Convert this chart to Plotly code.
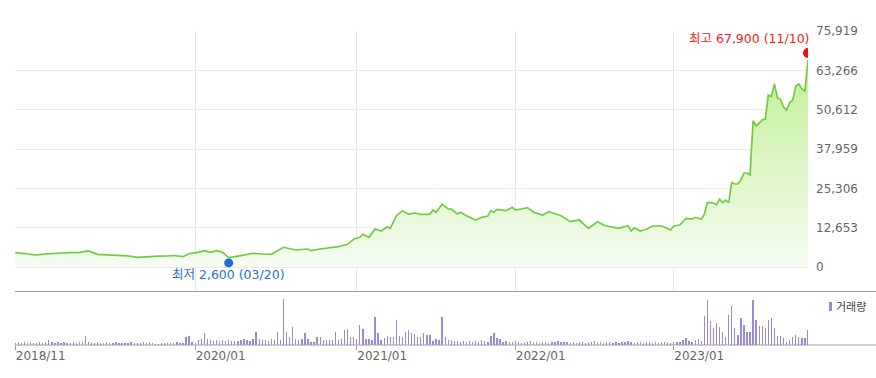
import pandas as pd
import plotly.graph_objects as go

# ---------------- data ----------------
start_date = pd.Timestamp("2018-11-16")   # first weekly point (Friday)

price_week = [0, 3, 7, 10, 12, 15, 18, 21, 24, 27, 30, 34, 37, 40, 44, 47, 50, 52, 55, 57,
              60, 62, 64, 66, 68, 70, 74, 78, 81, 84, 88, 92, 96, 97, 100, 103, 106, 109,
              111, 113, 114, 116, 118, 120, 122, 123, 124, 125, 127, 129, 131, 133, 136,
              137, 138, 140, 142, 143, 145, 146, 148, 151, 153, 155, 156, 157, 158, 161,
              163, 164, 166, 168, 170, 173, 175, 179, 182, 185, 188, 191, 193, 195, 198,
              201, 202, 203, 205, 207, 209, 212, 213, 215, 216, 218, 220, 222, 223, 225,
              226, 227, 228, 229, 230, 231, 232, 233, 234, 235, 236, 237, 238, 239, 240,
              241, 242, 243, 244, 245, 246, 247, 248, 249, 250, 251, 252, 253, 254, 255,
              256, 257, 258, 259, 260]
price = [4600, 4300, 3860, 4200, 4400, 4500, 4600, 4700, 5150, 4090, 3900, 3860, 3600, 3120,
         3440, 3500, 3540, 3700, 3310, 4280, 4700, 5240, 4730, 5240, 4730, 2990, 3640, 4410,
         4180, 4090, 6340, 5470, 5790, 5240, 5790, 6210, 6530, 7300, 8910, 9550, 10520,
         9550, 12230, 11580, 12870, 12450, 14570, 16500, 18110, 16950, 17370, 16950, 16950,
         18340, 17600, 20170, 18660, 18660, 17050, 17600, 16500, 15120, 15990, 16410, 18110,
         17600, 18560, 18110, 19200, 18340, 18660, 19080, 17600, 16730, 17790, 16500, 14570,
         15120, 12450, 14570, 13510, 12960, 12450, 13290, 11580, 12640, 11580, 12130, 13190,
         13190, 12770, 11900, 13190, 13510, 15670, 15440, 15990, 15350,
         17000, 20690, 20700, 20600, 20000, 21800, 20700, 21550, 20700, 27200, 26700, 26700,
         28000, 30240, 30240, 29600, 47060, 45360, 46300, 47290, 47600, 55300, 54800, 58870,
         54370, 53950, 51470, 50500, 52860, 53720, 58230, 58870, 57260, 56620, 66590]

# weekly trading volume (relative units), weeks 0..260
volume = [2, 3, 2, 3, 2, 3, 2, 2, 3, 2,
          3, 5, 3, 2, 3, 2, 3, 2, 2, 3,
          2, 3, 3, 9, 3, 3, 2, 3, 2, 2,
          3, 2, 2, 3, 2, 2, 2, 2, 3, 2,
          2, 2, 3, 2, 3, 2, 1, 1, 2, 2,
          2, 2, 2, 3, 2, 2, 8, 9, 3, 2,
          5, 6, 12, 6, 5, 4, 5, 4, 5, 4,
          5, 4, 4, 4, 5, 6, 5, 4, 6, 13,
          6, 5, 5, 4, 6, 5, 13, 5, 46, 13,
          8, 18, 6, 5, 6, 12, 6, 3, 3, 8,
          8, 5, 5, 5, 5, 13, 5, 6, 15, 16,
          8, 8, 6, 20, 16, 6, 6, 5, 28, 12,
          5, 7, 9, 8, 8, 25, 9, 8, 13, 15,
          12, 11, 8, 8, 12, 10, 10, 4, 6, 5,
          28, 8, 5, 5, 4, 4, 3, 4, 3, 4,
          3, 4, 3, 5, 4, 3, 9, 12, 7, 6,
          3, 4, 3, 3, 4, 3, 2, 3, 3, 4,
          3, 3, 2, 3, 3, 2, 3, 3, 4, 3,
          3, 3, 2, 3, 2, 3, 3, 2, 3, 3,
          4, 3, 3, 2, 3, 3, 2, 3, 2, 3,
          3, 4, 3, 2, 3, 3, 2, 3, 3, 2,
          3, 2, 3, 3, 3, 2, 3, 3, 3, 5,
          7, 4, 3, 5, 6, 4,
          29, 45, 24, 17, 22, 18, 13, 8, 30, 39,
          17, 10, 27, 20, 13, 13, 45, 25, 19, 19,
          17, 25, 27, 17, 9, 9, 7, 3, 5, 8,
          10, 8, 7, 7, 15]

tick_dates = ["2018-11-16", "2020-01-03", "2021-01-08", "2022-01-07", "2023-01-06"]
tick_labels = ["2018/11", "2020/01", "2021/01", "2022/01", "2023/01"]
price_ticks = [0, 12653, 25306, 37959, 50612, 63266, 75919]

high_date, high_value, high_label = "2023-11-10", 67900, "최고 67,900 (11/10)"
low_date, low_value, low_label = "2020-03-20", 2600, "최저 2,600 (03/20)"
volume_label = "거래량"

# ---------------- figure ----------------
W, H = 876, 378
FONT = "DejaVu Sans, Noto Sans CJK KR, sans-serif"

price_dates = [start_date + pd.Timedelta(weeks=w) for w in price_week]
vol_dates = [start_date + pd.Timedelta(weeks=w) for w in range(len(volume))]

def py(p):  # pixel from top -> paper fraction
    return 1 - p / H

x_dom = [15 / W, 808 / W]
x_range = [start_date - pd.Timedelta(hours=16), pd.Timestamp(high_date) + pd.Timedelta(hours=2)]

fig = go.Figure()

fig.add_trace(go.Scatter(
    x=price_dates, y=price, mode="lines",
    line=dict(color="#72cb42", width=1.7),
    fill="tozeroy",
    fillgradient=dict(type="vertical",
                      colorscale=[[0, "rgba(246,252,242,1)"], [1, "rgba(192,239,148,1)"]],
                      start=0, stop=high_value),
    hoverinfo="skip", showlegend=False, xaxis="x", yaxis="y"))

fig.add_trace(go.Bar(
    x=vol_dates, y=volume, marker=dict(color="#9b88d8", line=dict(width=0)),
    width=3.0 * 86400000, hoverinfo="skip", showlegend=False, xaxis="x2", yaxis="y2"))

shapes = [
    # volume panel top line and baseline
    dict(type="line", xref="paper", yref="paper", x0=15 / W, x1=1, y0=py(291.5), y1=py(291.5),
         line=dict(color="#a0a0a0", width=1)),
    dict(type="line", xref="paper", yref="paper", x0=15 / W, x1=1, y0=py(345), y1=py(345),
         line=dict(color="#a0a0a0", width=1)),
    # high / low markers
    dict(type="circle", xref="x", yref="y", xsizemode="pixel", ysizemode="pixel",
         xanchor=high_date, yanchor=high_value, x0=-5, x1=5, y0=-2, y1=8,
         fillcolor="#f20d0d", line=dict(width=0)),
    dict(type="circle", xref="x", yref="y", xsizemode="pixel", ysizemode="pixel",
         xanchor=low_date, yanchor=low_value, x0=-4.5, x1=4.5, y0=-8.5, y1=0.5,
         fillcolor="#1f6ad8", line=dict(width=0)),
    # legend swatch
    dict(type="rect", xref="paper", yref="paper", x0=829 / W, x1=832 / W, y0=py(311), y1=py(302),
         fillcolor="#9b88d8", line=dict(width=0)),
]

annotations = [
    dict(x=high_date, y=high_value, xref="x", yref="y", text=high_label, showarrow=False,
         xanchor="right", yanchor="middle", xshift=3, yshift=17,
         font=dict(family=FONT, size=12.5, color="#f01d1d")),
    dict(x=low_date, y=low_value, xref="x", yref="y", text=low_label, showarrow=False,
         xanchor="center", yanchor="middle", yshift=-16,
         font=dict(family=FONT, size=12.5, color="#2b6fcf")),
    dict(x=834 / W, y=py(307), xref="paper", yref="paper", text=volume_label, showarrow=False,
         xanchor="left", yanchor="middle", font=dict(family=FONT, size=11, color="#444")),
]

fig.update_layout(
    width=W, height=H,
    margin=dict(l=0, r=0, t=0, b=0, pad=0, autoexpand=False),
    paper_bgcolor="white", plot_bgcolor="white",
    font=dict(family=FONT, size=12, color="#666"),
    bargap=0,
    xaxis=dict(domain=x_dom, type="date", range=x_range, tickvals=tick_dates, ticktext=tick_labels,
               showticklabels=False, ticks="", showgrid=True, gridcolor="#e9e9e9", gridwidth=1,
               zeroline=False, showline=False, anchor="y"),
    yaxis=dict(domain=[py(291), py(31)], range=[-7720, 75919], side="right", anchor="x",
               tickvals=price_ticks, tickformat=",d", showgrid=True, gridcolor="#ececec",
               zeroline=False, showline=False, ticks="", ticklabelstandoff=7,
               tickfont=dict(family=FONT, size=12, color="#666")),
    xaxis2=dict(domain=x_dom, type="date", range=x_range, matches="x", anchor="y2",
                tickvals=tick_dates, ticktext=tick_labels, ticklabelposition="outside right",
                ticks="outside", ticklen=4, tickcolor="#999", showgrid=False, zeroline=False,
                showline=False, tickfont=dict(family=FONT, size=12, color="#666")),
    yaxis2=dict(domain=[py(345), py(292)], range=[0, 53], anchor="x2", showticklabels=False,
                showgrid=False, zeroline=False, showline=False, ticks=""),
    shapes=shapes, annotations=annotations,
)

fig.write_html("out.html",
               config={"displayModeBar": False, "staticPlot": True},
               post_script="document.body.style.margin='0';document.body.style.overflow='hidden';")
